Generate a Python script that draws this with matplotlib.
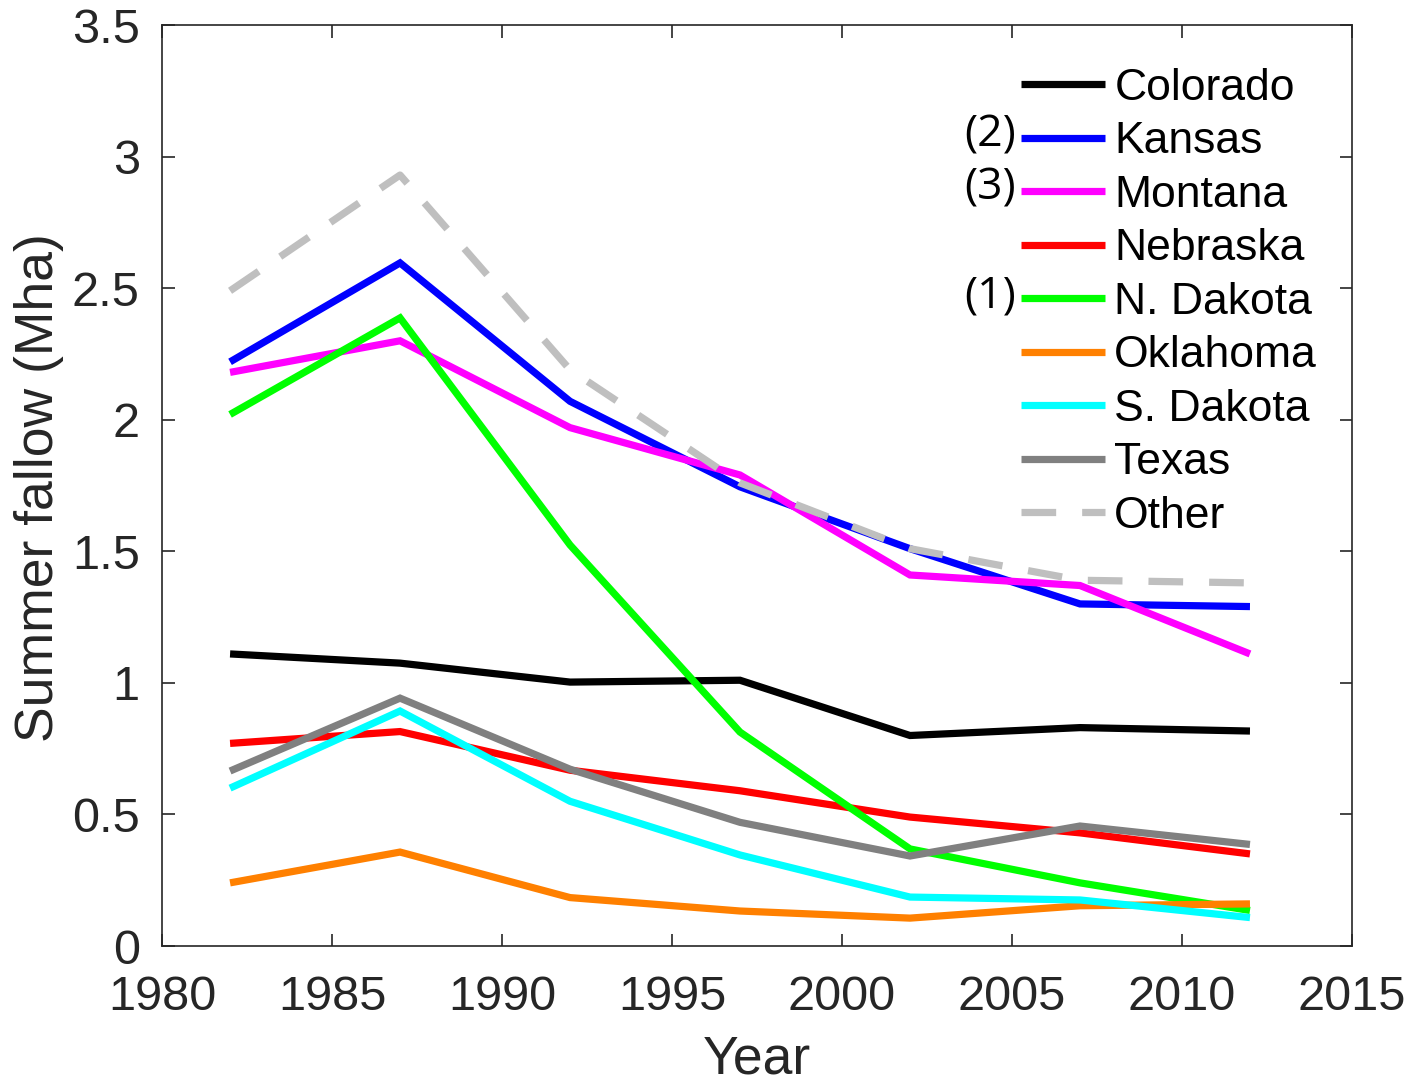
import matplotlib
matplotlib.use("Agg")
import matplotlib.pyplot as plt

plt.rcParams['font.family'] = ['Liberation Sans', 'DejaVu Sans']

years = [1982, 1987, 1992, 1997, 2002, 2007, 2012]

colorado = [1.11, 1.075, 1.003, 1.01, 0.80, 0.83, 0.817]
kansas = [2.22, 2.596, 2.07, 1.745, 1.51, 1.30, 1.29]
montana = [2.18, 2.30, 1.97, 1.79, 1.41, 1.37, 1.11]
nebraska = [0.77, 0.815, 0.668, 0.59, 0.49, 0.43, 0.35]
n_dakota = [2.02, 2.387, 1.524, 0.813, 0.369, 0.24, 0.135]
oklahoma = [0.24, 0.357, 0.184, 0.133, 0.106, 0.153, 0.16]
s_dakota = [0.60, 0.893, 0.55, 0.346, 0.186, 0.175, 0.108]
texas = [0.665, 0.942, 0.672, 0.47, 0.342, 0.456, 0.386]
other = [2.49, 2.93, 2.19, 1.76, 1.51, 1.39, 1.38]

series = [
    ("Colorado", colorado, (0, 0, 0), "-"),
    ("Kansas", kansas, (0, 0, 1), "-"),
    ("Montana", montana, (1, 0, 1), "-"),
    ("Nebraska", nebraska, (1, 0, 0), "-"),
    ("N. Dakota", n_dakota, (0, 1, 0), "-"),
    ("Oklahoma", oklahoma, (1, 0.5, 0), "-"),
    ("S. Dakota", s_dakota, (0, 1, 1), "-"),
    ("Texas", texas, (0.5, 0.5, 0.5), "-"),
    ("Other", other, (0.75, 0.75, 0.75), "--"),
]

xticks = [1980, 1985, 1990, 1995, 2000, 2005, 2010, 2015]
yticks = [0, 0.5, 1, 1.5, 2, 2.5, 3, 3.5]
ytick_labels = ["0", "0.5", "1", "1.5", "2", "2.5", "3", "3.5"]

fig = plt.figure(figsize=(14.13, 10.84), dpi=100)
ax = fig.add_axes([0.1147, 0.1273, 0.8421, 0.8496])

for name, vals, col, ls in series:
    if ls == "--":
        ax.plot(years, vals, color=col, lw=5.2, label=name, dashes=(4.8, 3.6),
                dash_capstyle='butt')
    else:
        ax.plot(years, vals, color=col, lw=5.2, label=name,
                solid_capstyle='butt', solid_joinstyle='miter')

ax.set_xlim(1980, 2015)
ax.set_ylim(0, 3.5)
ax.set_xticks(xticks)
ax.set_xticklabels([str(x) for x in xticks])
ax.set_yticks(yticks)
ax.set_yticklabels(ytick_labels)

dark = (0.15, 0.15, 0.15)
for s in ax.spines.values():
    s.set_color(dark)
    s.set_linewidth(1.2)
ax.tick_params(direction='in', length=9, width=1.2, colors=dark,
               labelsize=35, top=True, right=True, pad=16)
ax.tick_params(axis='x', pad=21)
for lbl in ax.get_xticklabels() + ax.get_yticklabels():
    lbl.set_color(dark)

ax.set_xlabel("Year", fontsize=38.5, color=dark)
ax.set_ylabel("Summer fallow (Mha)", fontsize=38.5, color=dark)
ax.xaxis.set_label_coords(0.5, -0.096)
ax.yaxis.set_label_coords(-0.0824, 0.498)

leg = ax.legend(loc='upper left', bbox_to_anchor=(1021 / 1413, 1 - 68 / 1084),
                bbox_transform=fig.transFigure, frameon=False, fontsize=32,
                handlelength=1.88, handletextpad=0.22, labelspacing=0.28,
                borderpad=0, borderaxespad=0)
for t in leg.get_texts():
    t.set_color('black')

# numbered markers beside selected legend entries
marks = [("(2)", 135), ("(3)", 188), ("(1)", 296)]
for txt, py in marks:
    fig.text(1016 / 1413, 1 - py / 1084, txt, ha='right', va='center',
             fontsize=32, family=['Open Sans', 'DejaVu Sans'], color='black')

fig.savefig("out.png", dpi=100)
